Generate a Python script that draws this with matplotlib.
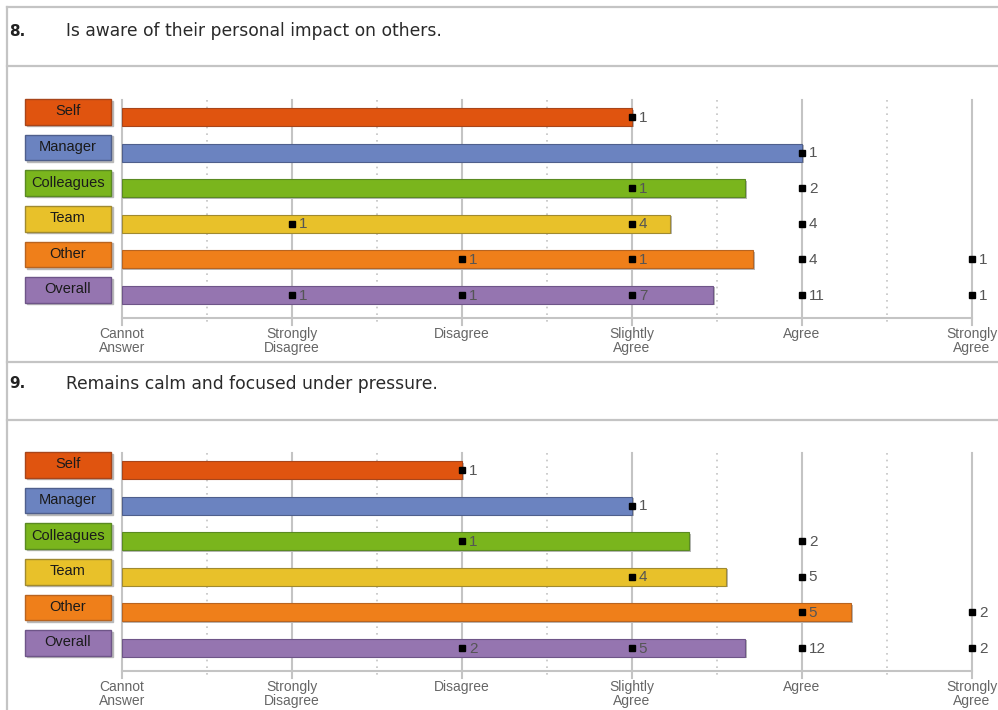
import numpy as np
import matplotlib.pyplot as plt
from matplotlib.patches import Rectangle
from matplotlib.lines import Line2D

plt.rcParams['font.family'] = ['Liberation Sans', 'DejaVu Sans']

levels = ["Cannot\nAnswer", "Strongly\nDisagree", "Disagree",
          "Slightly\nAgree", "Agree", "Strongly\nAgree"]
groups = ["Self", "Manager", "Colleagues", "Team", "Other", "Overall"]
colors = ["#E0540F", "#6B83C0", "#7AB51D", "#E8C12A", "#EF7F1A", "#9575B0"]
edges = ["#A8451A", "#4F5F8C", "#5A8A22", "#A08A30", "#B86420", "#6E5588"]

q8_title = "Is aware of their personal impact on others."
q8_counts = [
    [0, 0, 0, 1, 0, 0],
    [0, 0, 0, 0, 1, 0],
    [0, 0, 0, 1, 2, 0],
    [0, 1, 0, 4, 4, 0],
    [0, 0, 1, 1, 4, 1],
    [0, 1, 1, 7, 11, 1],
]

q9_title = "Remains calm and focused under pressure."
q9_counts = [
    [0, 0, 1, 0, 0, 0],
    [0, 0, 0, 1, 0, 0],
    [0, 0, 1, 0, 2, 0],
    [0, 0, 0, 4, 5, 0],
    [0, 0, 0, 0, 5, 2],
    [0, 0, 2, 5, 12, 2],
]

W, H = 998, 710
fig = plt.figure(figsize=(W / 100, H / 100), dpi=100)


def fx(px):
    return px / W


def fy(py):
    return 1 - py / H


GRID = "#c4c4c4"

# outer frame lines
fig.add_artist(Line2D([fx(7), fx(7)], [fy(7), fy(710)], color=GRID, lw=1.6))
for yy in [7, 66, 362, 420]:
    fig.add_artist(Line2D([fx(7), fx(998)], [fy(yy), fy(yy)], color=GRID, lw=1.6))


def panel(off, num, title, counts):
    fig.text(fx(9), fy(31 + off), num, fontsize=11, fontweight="bold",
             color="#222222", va="center", family="DejaVu Sans")
    fig.text(fx(66), fy(31 + off), title, fontsize=12.3, color="#2a2a2a",
             va="center", family="DejaVu Sans")

    ax = fig.add_axes([fx(122), fy(318 + off), fx(850), 218 / H])
    ax.set_xlim(0, 5)
    ax.set_ylim(5.65, -0.48)
    ax.axis("off")

    # grid: solid at each level, dotted between
    for i in range(6):
        ax.plot([i, i], [-0.48, 5.85], color=GRID, lw=1.5, clip_on=False, zorder=1)
    for i in range(5):
        ax.plot([i + 0.5, i + 0.5], [-0.48, 5.8], color=GRID, lw=1.2,
                ls=(0, (1, 3)), clip_on=False, zorder=1)
    ax.plot([0, 5], [5.65, 5.65], color=GRID, lw=1.5, clip_on=False, zorder=1)

    for i, lab in enumerate(levels):
        ax.text(i, 5.9, lab, ha="center", va="top", fontsize=10,
                color="#666666", linespacing=1.05)

    vals = np.arange(6)
    for r, (g, c) in enumerate(zip(groups, counts)):
        c = np.array(c)
        mean = (c * vals).sum() / c.sum()
        # bar shadow and bar
        ax.barh(r + 0.04, mean + 0.012, height=0.5, color="#b8b8b8", zorder=2)
        ax.barh(r, mean, height=0.5, color=colors[r], edgecolor=edges[r],
                lw=0.8, zorder=3)

        # legend box on the left
        bx, bw = -0.57, 0.505
        ax.add_patch(Rectangle((bx + 0.01, r - 0.5 + 0.04), bw, 0.72,
                               color="#b8b8b8", clip_on=False, zorder=2))
        ax.add_patch(Rectangle((bx, r - 0.5), bw, 0.72, facecolor=colors[r],
                               edgecolor=edges[r], lw=1, clip_on=False, zorder=3))
        ax.text(bx + bw / 2, r - 0.16, g, ha="center", va="center",
                fontsize=10.5, color="#1a1a1a", clip_on=False, zorder=4)

        for v, n in zip(vals, c):
            if n > 0:
                ax.plot(v, r, "s", color="black", ms=5, clip_on=False, zorder=5)
                ax.text(v + 0.04, r + 0.02, str(n), ha="left", va="center",
                        fontsize=11, color="#555555", clip_on=False, zorder=5)


panel(0, "8.", q8_title, q8_counts)
panel(353, "9.", q9_title, q9_counts)

fig.savefig("out.png", dpi=100)
